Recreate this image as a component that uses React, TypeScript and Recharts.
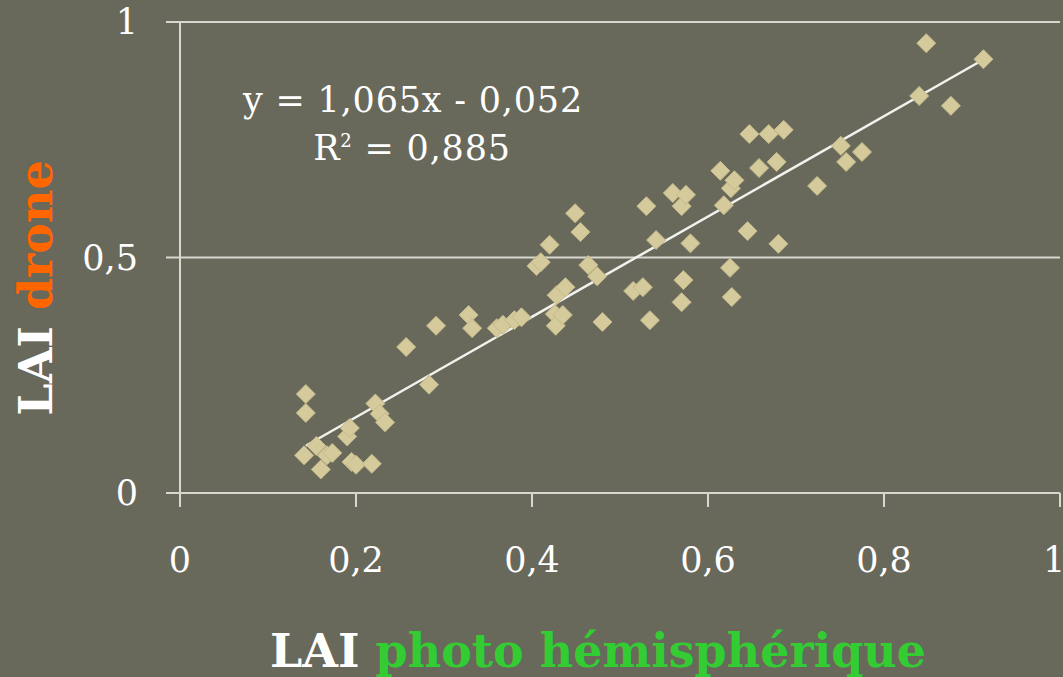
import { ScatterChart, Scatter, XAxis, YAxis, CartesianGrid, ReferenceLine } from 'recharts';

// LAI measured from hemispherical photos vs. LAI estimated by drone
const photoLAI = [
  0.143, 0.143, 0.141, 0.155, 0.16, 0.167, 0.173, 0.19, 0.193, 0.195, 0.2, 0.218, 0.222, 0.227, 0.233,
  0.257, 0.283, 0.291, 0.328, 0.332, 0.36, 0.367, 0.38, 0.388, 0.405, 0.41, 0.42, 0.426, 0.427, 0.428,
  0.438, 0.435, 0.449, 0.455, 0.464, 0.474, 0.48, 0.515, 0.526, 0.53, 0.534, 0.541, 0.56, 0.57, 0.575,
  0.572, 0.57, 0.58, 0.614, 0.618, 0.625, 0.626, 0.63, 0.627, 0.645, 0.647, 0.658, 0.669, 0.678, 0.68,
  0.686, 0.724, 0.751, 0.757, 0.775, 0.84, 0.848, 0.876, 0.913,
];
const droneLAI = [
  0.21, 0.17, 0.08, 0.1, 0.05, 0.08, 0.085, 0.12, 0.138, 0.066, 0.06, 0.062, 0.19, 0.168, 0.15,
  0.31, 0.23, 0.355, 0.378, 0.35, 0.35, 0.357, 0.367, 0.373, 0.482, 0.49, 0.527, 0.38, 0.355, 0.42,
  0.437, 0.378, 0.594, 0.554, 0.484, 0.46, 0.363, 0.429, 0.437, 0.609, 0.367, 0.537, 0.637, 0.609, 0.633,
  0.452, 0.405, 0.53, 0.684, 0.611, 0.478, 0.647, 0.664, 0.416, 0.556, 0.762, 0.69, 0.762, 0.703, 0.529,
  0.771, 0.652, 0.737, 0.703, 0.724, 0.843, 0.955, 0.822, 0.921,
];

const xTicks = [0, 0.2, 0.4, 0.6, 0.8, 1];
const yTicks = [0, 0.5, 1];

const slope = 1.065;
const intercept = -0.052;
const r2 = 0.885;
const trendRange = [0.143, 0.913];

const points = photoLAI.map((x, i) => ({ x, y: droneLAI[i] }));
const trend = trendRange.map((x) => ({ x, y: slope * x + intercept }));

const fr = (v: number) => String(v).replace('.', ',');

const BG = '#68685b';
const AXIS = '#d8d8d0';
const FONT = '"DejaVu Serif", serif';

const Diamond = (props: any) => {
  const { cx, cy } = props;
  const r = 9.5;
  return (
    <path
      d={`M${cx},${cy - r} L${cx + r},${cy} L${cx},${cy + r} L${cx - r},${cy} Z`}
      fill="#d4ca9b"
      stroke="#c3b98a"
      strokeWidth={1}
    />
  );
};

export default function App() {
  return (
    <div style={{ position: 'relative', width: 1063, height: 677, background: BG, overflow: 'hidden' }}>
      <style>{`html, body { margin: 0; padding: 0; background: ${BG}; }`}</style>
      <ScatterChart width={1063} height={677} margin={{ top: 22, right: 3, left: 0, bottom: 0 }}>
        <CartesianGrid vertical={false} stroke={AXIS} strokeWidth={2} />
        <XAxis
          type="number"
          dataKey="x"
          domain={[0, 1]}
          ticks={xTicks}
          height={184}
          tickFormatter={fr}
          stroke={AXIS}
          strokeWidth={2}
          tickSize={14}
          tickMargin={40}
          tick={{ fill: '#ffffff', fontSize: 35, fontFamily: FONT }}
        />
        <YAxis
          type="number"
          dataKey="y"
          domain={[0, 1]}
          ticks={yTicks}
          width={180}
          tickFormatter={fr}
          stroke={AXIS}
          strokeWidth={2}
          tickSize={14}
          tickMargin={28}
          tick={{ fill: '#ffffff', fontSize: 35, fontFamily: FONT }}
        />
        <Scatter data={points} shape={Diamond} isAnimationActive={false} />
        <ReferenceLine
          segment={[trend[0], trend[1]]}
          stroke="#f2f2ee"
          strokeWidth={2.5}
          ifOverflow="visible"
        />
      </ScatterChart>
      <svg width={1063} height={677} style={{ position: 'absolute', left: 0, top: 0, pointerEvents: 'none' }}>
        <text x={413} y={112} textAnchor="middle" fill="#fff" fontSize={35} letterSpacing={0.8} fontFamily={FONT}>
          {`y = ${fr(slope)}x - ${fr(-intercept)}`}
        </text>
        <text x={412} y={160} textAnchor="middle" fill="#fff" fontSize={35} letterSpacing={0.8} fontFamily={FONT}>
          R<tspan dy={-13} fontSize={18}>2</tspan>
          <tspan dy={13}>{` = ${fr(r2)}`}</tspan>
        </text>
        <text x={598} y={667} textAnchor="middle" fontSize={46} fontWeight="bold" fontFamily={FONT}>
          <tspan fill="#ffffff">LAI </tspan>
          <tspan fill="#33cc33">photo hémisphérique</tspan>
        </text>
        <text
          x={52}
          y={288}
          textAnchor="middle"
          fontSize={46}
          fontWeight="bold"
          fontFamily={FONT}
          transform="rotate(-90, 52, 288)"
        >
          <tspan fill="#ffffff">LAI </tspan>
          <tspan fill="#ff6600">drone</tspan>
        </text>
      </svg>
    </div>
  );
}
